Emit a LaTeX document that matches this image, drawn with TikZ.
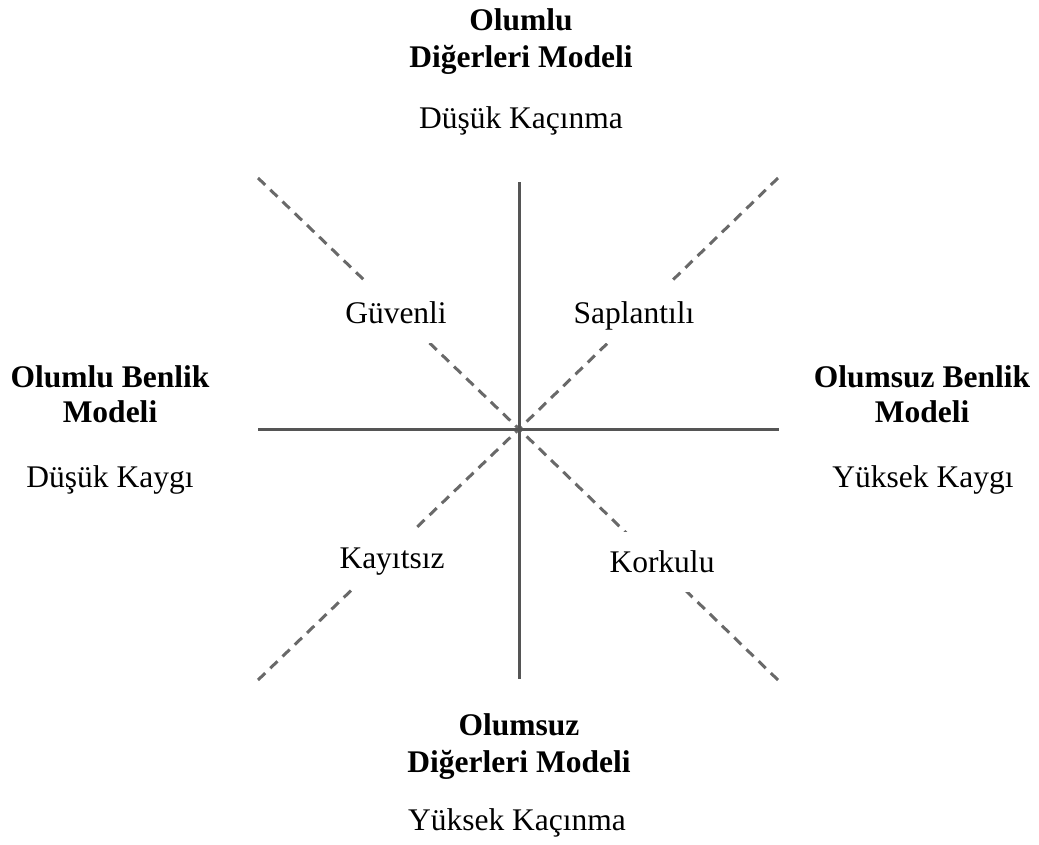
\documentclass[tikz,border=0pt]{standalone}
\usepackage{fontspec}
\setmainfont{Liberation Serif}
\definecolor{axisgray}{RGB}{85,85,85}
\definecolor{dashgray}{RGB}{105,105,105}
\tikzset{
  axisline/.style={draw=axisgray, line width=3pt},
  diagline/.style={draw=dashgray, line width=3pt, dash pattern=on 10pt off 7pt},
  head/.style={font=\fontsize{31.5}{36}\selectfont\bfseries, anchor=base, inner sep=0pt},
  sub/.style={font=\fontsize{31.5}{36}\selectfont, anchor=base, inner sep=0pt},
  quad/.style={font=\fontsize{31.5}{36}\selectfont, anchor=base, fill=white,
    text height=28pt, text depth=8pt, inner xsep=3pt, inner ysep=12pt},
}
\begin{document}
\begin{tikzpicture}[x=1pt,y=-1pt]
\useasboundingbox (0,0) rectangle (1039,844);
% axis end points
\coordinate (c) at (519,429);
\coordinate (top) at (519,182);
\coordinate (bot) at (519,679);
\coordinate (lft) at (258,429);
\coordinate (rgt) at (779,429);
\coordinate (tl) at (258,178);
\coordinate (tr) at (778,178);
\coordinate (bl) at (258,680);
\coordinate (br) at (778,680);
% diagonal dashed lines
\draw[diagline] (tl) -- (c);
\draw[diagline] (tr) -- (c);
\draw[diagline] (bl) -- (c);
\draw[diagline] (br) -- (c);
% solid axes
\draw[axisline] (top) -- (bot);
\draw[axisline] (lft) -- (rgt);
% quadrant labels
\node[quad] (guv) at (396,323) {Güvenli};
\node[quad] (sap) at (634,323) {Saplantılı};
\node[quad] (kay) at (392,568) {Kayıtsız};
\node[quad] (kor) at (662,572) {Korkulu};
% top
\node[head] (t1) at (521,30) {Olumlu};
\node[head] (t2) at (521,67) {Diğerleri Modeli};
\node[sub] (t3) at (521,128) {Düşük Kaçınma};
% left
\node[head] (l1) at (110,387) {Olumlu Benlik};
\node[head] (l2) at (110,422) {Modeli};
\node[sub] (l3) at (110,487) {Düşük Kaygı};
% right
\node[head] (r1) at (922,387) {Olumsuz Benlik};
\node[head] (r2) at (922,422) {Modeli};
\node[sub] (r3) at (923,487) {Yüksek Kaygı};
% bottom
\node[head] (b1) at (519,735) {Olumsuz};
\node[head] (b2) at (519,772) {Diğerleri Modeli};
\node[sub] (b3) at (517,830) {Yüksek Kaçınma};
\end{tikzpicture}
\end{document}
